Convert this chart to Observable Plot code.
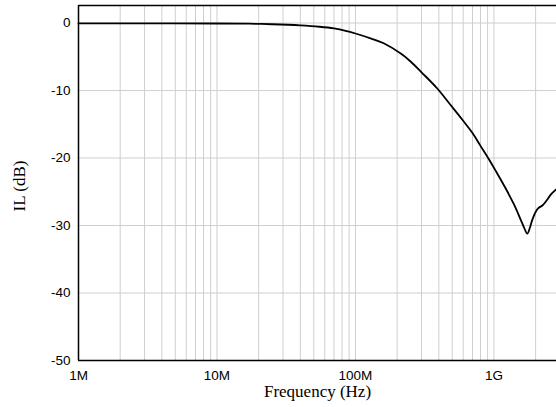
<!DOCTYPE html>
<html>
<head>
<meta charset="utf-8">
<script src="https://cdn.jsdelivr.net/npm/d3@7"></script>
<script src="https://cdn.jsdelivr.net/npm/@observablehq/plot@0.6"></script>
<style>
  html, body { margin: 0; padding: 0; background: #fff; }
  #chart svg { display: block; }
</style>
</head>
<body>
<div id="chart"></div>
<script>
// Frequency (Hz) and insertion loss (dB)
const freqs = [1e6, 2e6, 5e6, 10e6, 17e6, 25e6, 40e6, 55e6, 70e6, 85e6, 100e6, 130e6, 160e6, 215e6, 250e6, 300e6, 390e6, 480e6, 590e6, 700e6, 800e6, 915e6, 1.03e9, 1.2e9, 1.39e9, 1.55e9, 1.65e9, 1.74e9, 1.82e9, 1.89e9, 2.0e9, 2.1e9, 2.25e9, 2.4e9, 2.6e9, 2.83e9];
const ilValues = [-0.05, -0.05, -0.05, -0.07, -0.1, -0.18, -0.35, -0.55, -0.8, -1.15, -1.55, -2.3, -3.0, -4.6, -5.7, -7.3, -9.7, -12.0, -14.3, -16.3, -18.2, -20.1, -21.9, -24.3, -26.8, -29.0, -30.3, -31.2, -30.3, -29.2, -28.0, -27.4, -27.0, -26.3, -25.3, -24.6];

const xTicks = [1e6, 1e7, 1e8, 1e9];
const xTickLabels = ["1M", "10M", "100M", "1G"];
const yTicks = [0, -10, -20, -30, -40, -50];
const yTickLabels = ["0", "-10", "-20", "-30", "-40", "-50"];
const xGrid = [];
for (let d = 1e6; d < 3e9; d *= 10) for (let m = 1; m <= 9; m++) if (d * m <= 2.83e9) xGrid.push(d * m);

const xDomain = [1e6, 2.83e9];
const yDomain = [-50, 2.6];

const data = freqs.map((f, i) => ({f, v: ilValues[i]}));
const xLabelData = xTicks.map((t, i) => ({t, label: xTickLabels[i]}));
const yLabelData = yTicks.map((t, i) => ({t, label: yTickLabels[i]}));

const sans = "'Liberation Sans', Arial, sans-serif";
const serif = "'Liberation Serif', 'Times New Roman', serif";

const chart = Plot.plot({
  width: 556,
  height: 407,
  marginTop: 5,
  marginBottom: 47,
  marginLeft: 78,
  marginRight: 0,
  style: {background: "#fff", fontFamily: sans, fontSize: "13px", color: "#000"},
  x: {type: "log", domain: xDomain, axis: null},
  y: {domain: yDomain, axis: null},
  marks: [
    Plot.ruleX(xGrid.slice(1), {stroke: "#cfcfcf", strokeWidth: 1}),
    Plot.ruleY(yTicks.slice(0, 5), {stroke: "#cfcfcf", strokeWidth: 1}),
    Plot.line(data, {x: "f", y: "v", stroke: "#000", strokeWidth: 1.8, curve: "catmull-rom"}),
    Plot.ruleX([xDomain[0]], {stroke: "#000", strokeWidth: 1.5}),
    Plot.ruleY([yDomain[0]], {stroke: "#000", strokeWidth: 1.5}),
    Plot.ruleY([yDomain[1]], {stroke: "#000", strokeWidth: 1.5}),
    Plot.text(xLabelData, {x: "t", y: () => yDomain[0], text: "label", dy: 15, lineAnchor: "middle", fontSize: 13.5, fontFamily: sans, fill: "#000"}),
    Plot.text(yLabelData, {x: () => xDomain[0], y: "t", text: "label", dx: -8, textAnchor: "end", lineAnchor: "middle", fontSize: 13.5, fontFamily: sans, fill: "#000"}),
    Plot.text(["Frequency (Hz)"], {frameAnchor: "bottom", lineAnchor: "middle", textAnchor: "middle", dy: 31, fontSize: 17, fontFamily: serif, fill: "#000"}),
    Plot.text(["IL (dB)"], {frameAnchor: "left", lineAnchor: "middle", textAnchor: "middle", dx: -59, dy: 3, rotate: -90, fontSize: 17, fontFamily: serif, fill: "#000"})
  ]
});
document.getElementById("chart").appendChild(chart);
</script>
</body>
</html>
